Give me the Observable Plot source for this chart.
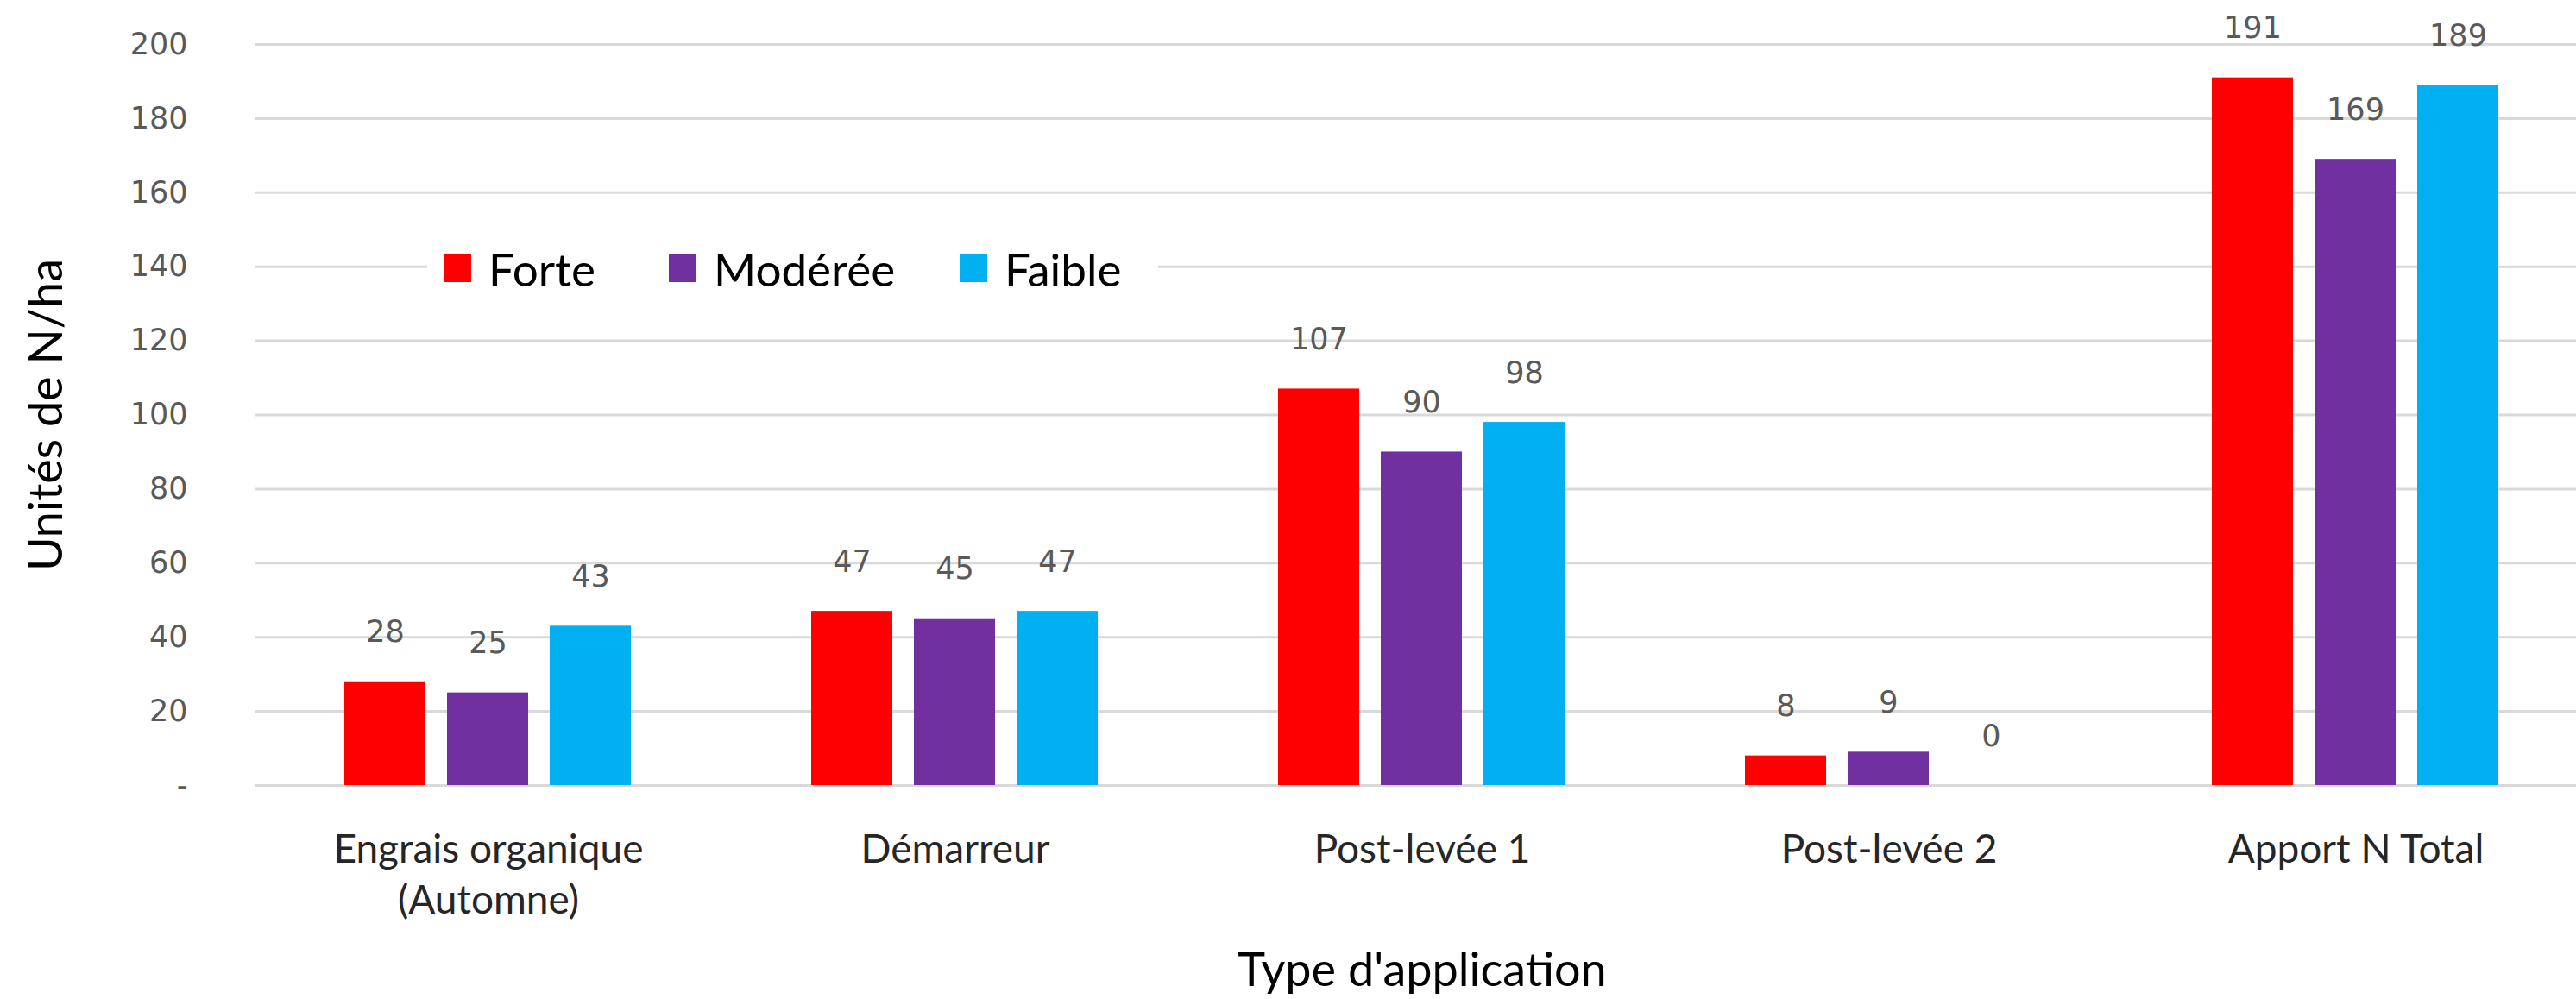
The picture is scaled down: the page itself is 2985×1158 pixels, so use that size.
<!DOCTYPE html>
<html>
<head>
<meta charset="utf-8">
<script src="https://cdn.jsdelivr.net/npm/d3@7"></script>
<script src="https://cdn.jsdelivr.net/npm/@observablehq/plot@0.6"></script>
<style>
  html, body { margin: 0; padding: 0; background: #fff; }
  #wrap { position: relative; width: 2985px; height: 1158px; overflow: hidden; }
  #legend { position: absolute; background: #fff; display: flex; align-items: center;
            font-family: Lato, sans-serif; font-size: 53px; color: #000; }
  #legend .item { display: flex; align-items: center; }
  #legend .sw { width: 32px; height: 32px; display: inline-block; }
</style>
</head>
<body>
<div id="wrap"><div id="legend"></div></div>
<script>
const categories = ["Engrais organique\n(Automne)", "Démarreur", "Post-levée 1", "Post-levée 2", "Apport N Total"];
const series = ["Forte", "Modérée", "Faible"];
const forte   = [28, 47, 107, 8, 191];
const moderee = [25, 45, 90, 9, 169];
const faible  = [43, 47, 98, 0, 189];
const colors = ["#FF0000", "#7030A0", "#00B0F0"];
const yTicks = [0, 20, 40, 60, 80, 100, 120, 140, 160, 180, 200];
const yLabel = "Unités de N/ha";
const xLabel = "Type d'application";

const valuesBySeries = [forte, moderee, faible];
const data = [];
categories.forEach((c, i) => series.forEach((s, j) => data.push({cat: c, series: s, value: valuesBySeries[j][i]})));

const chart = Plot.plot({
  width: 2985,
  height: 1158,
  marginLeft: 293,
  marginRight: -17,
  marginTop: 51,
  marginBottom: 248,
  style: {background: "transparent"},
  fx: {domain: categories, paddingInner: 0, paddingOuter: 0},
  x: {domain: series, paddingInner: 0.21, paddingOuter: 0.86, axis: null},
  y: {domain: [0, 200]},
  color: {domain: series, range: colors},
  marks: [
    Plot.gridY(yTicks, {stroke: "#D9D9D9", strokeOpacity: 1, strokeWidth: 3}),
    Plot.barY(data, {fx: "cat", x: "series", y: "value", fill: "series"}),
    Plot.text(data, {fx: "cat", x: "series", y: "value", text: d => String(d.value), lineAnchor: "bottom", dy: -46,
      fontFamily: "DejaVu Sans", fontSize: 35, fill: "#595959"}),
    Plot.axisY(yTicks, {tickSize: 0, tickPadding: 78, tickFormat: d => d === 0 ? "-" : String(d),
      fontFamily: "DejaVu Sans", fontSize: 35, fill: "#595959",
      label: yLabel, labelAnchor: "center", labelOffset: 262}),
    Plot.axisFx({anchor: "bottom", tickSize: 0, tickPadding: 48, fontFamily: "Lato", fontSize: 46, fill: "#262626",
      lineHeight: 1.28, label: xLabel, labelAnchor: "center", labelOffset: 232})
  ]
});

// style axis labels (and drop the arrow)
chart.querySelectorAll("[aria-label='y-axis label'] text, [aria-label='fx-axis label'] text").forEach(t => {
  t.setAttribute("font-family", "Lato");
  t.setAttribute("font-size", "54");
  t.setAttribute("fill", "#000");
  t.textContent = t.textContent.replace(/\s*[↑→↓←]\s*/g, "");
});

const wrap = document.getElementById("wrap");
wrap.insertBefore(chart, wrap.firstChild);

// legend overlaid inside the plot area
const legend = document.getElementById("legend");
legend.style.left = "495px";
legend.style.top = "281px";
legend.style.width = "847px";
legend.style.height = "60px";
const swX = [19, 280, 617];
series.forEach((s, i) => {
  const item = document.createElement("div");
  item.className = "item";
  item.style.position = "absolute";
  item.style.left = swX[i] + "px";
  item.style.top = "0px";
  item.style.height = "60px";
  item.innerHTML = `<span class="sw" style="background:${colors[i]}"></span><span style="margin-left:20px">${s}</span>`;
  legend.appendChild(item);
});
</script>
</body>
</html>
